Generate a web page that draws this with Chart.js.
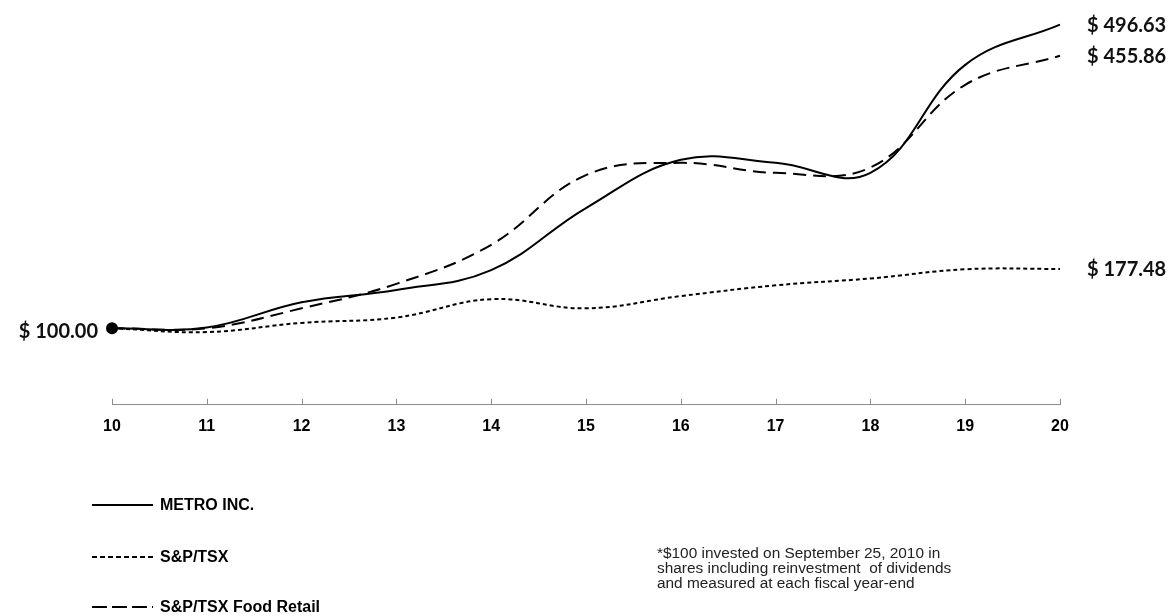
<!DOCTYPE html>
<html>
<head>
<meta charset="utf-8">
<script src="https://cdn.jsdelivr.net/npm/chart.js@4"></script>
<style>
  html, body { margin: 0; padding: 0; background: #fff; }
  #wrap { position: relative; width: 1172px; height: 616px; }
</style>
</head>
<body>
<div id="wrap"><canvas id="chart1" width="1172" height="616"></canvas></div>
<script>
// fiscal years (20xx)
const years = [10, 11, 12, 13, 14, 15, 16, 17, 18, 19, 20];

// cumulative value of $100
const metro     = [100, 101, 134, 150, 176, 257, 320, 316, 303, 444, 496.63];
const tsx       = [100, 95, 107, 114, 138, 126, 142, 156, 165, 177, 177.48];
const foodRetail = [100, 100, 126, 158, 209, 300, 316, 303, 310, 418, 455.86];

const seriesNames = ['METRO INC.', 'S&P/TSX', 'S&P/TSX Food Retail'];

const footnote = [
  '*$100 invested on September 25, 2010 in',
  'shares including reinvestment  of dividends',
  'and measured at each fiscal year-end'
];

function toPoints(values) {
  return values.map((v, i) => ({ x: years[i], y: v }));
}

// labels at both ends of the lines, legend and footnote
const decorations = {
  id: 'decorations',
  afterDraw(chart) {
    const ctx = chart.ctx;
    const xs = chart.scales.x;
    const ys = chart.scales.y;
    ctx.save();

    // small tick marks sitting on the axis line
    ctx.strokeStyle = '#8c8c8c';
    ctx.lineWidth = 1;
    years.forEach(yr => {
      const px = Math.round(xs.getPixelForValue(yr)) + 0.5;
      ctx.beginPath();
      ctx.moveTo(px, chart.chartArea.bottom);
      ctx.lineTo(px, chart.chartArea.bottom - 6);
      ctx.stroke();
    });

    // end labels
    ctx.fillStyle = '#111';
    ctx.font = 'bold 20px Lato, "Open Sans", sans-serif';
    ctx.textBaseline = 'middle';
    ctx.textAlign = 'left';
    chart.data.datasets.forEach(ds => {
      const last = ds.data[ds.data.length - 1];
      ctx.fillText('$ ' + last.y.toFixed(2), xs.getPixelForValue(last.x) + 27, ys.getPixelForValue(last.y) + 1);
    });
    const first = chart.data.datasets[0].data[0];
    ctx.textAlign = 'right';
    ctx.fillText('$ ' + first.y.toFixed(2), xs.getPixelForValue(first.x) - 14, ys.getPixelForValue(first.y) + 3);

    // legend
    const legendY = [505, 557, 607];
    chart.data.datasets.forEach((ds, i) => {
      ctx.strokeStyle = '#000';
      ctx.lineWidth = 2;
      ctx.setLineDash(ds.legendDash);
      ctx.beginPath();
      ctx.moveTo(92, legendY[i]);
      ctx.lineTo(153, legendY[i]);
      ctx.stroke();
      ctx.setLineDash([]);
      ctx.fillStyle = '#000';
      ctx.textAlign = 'left';
      ctx.font = 'bold 16px "Liberation Sans", Arial, sans-serif';
      ctx.fillText(seriesNames[i], 160, legendY[i] + 1);
    });

    // footnote
    ctx.fillStyle = '#222';
    ctx.font = '15.4px "Liberation Sans", Arial, sans-serif';
    ctx.textBaseline = 'alphabetic';
    footnote.forEach((line, i) => {
      ctx.fillText(line, 657, 558 + i * 15);
    });
    ctx.restore();
  }
};

const ctx = document.getElementById('chart1').getContext('2d');
const chart = new Chart(ctx, {
  type: 'line',
  data: {
    datasets: [
      {
        label: seriesNames[0],
        data: toPoints(metro),
        borderColor: '#000',
        borderWidth: 2,
        legendDash: [],
        pointRadius: metro.map((v, i) => i === 0 ? 5 : 0),
        pointBackgroundColor: '#000',
        pointBorderColor: '#000',
        tension: 0.4,
        fill: false
      },
      {
        label: seriesNames[1],
        data: toPoints(tsx),
        borderColor: '#000',
        borderWidth: 2,
        borderDash: [4, 3],
        legendDash: [5, 3],
        pointRadius: 0,
        tension: 0.4,
        fill: false
      },
      {
        label: seriesNames[2],
        data: toPoints(foodRetail),
        borderColor: '#000',
        borderWidth: 2,
        borderDash: [13, 7],
        legendDash: [15, 5],
        pointRadius: 0,
        tension: 0.4,
        fill: false
      }
    ]
  },
  options: {
    responsive: false,
    animation: false,
    clip: false,
    layout: { padding: { left: 112, right: 112, top: 22, bottom: 168 } },
    plugins: {
      legend: { display: false },
      tooltip: { enabled: false }
    },
    scales: {
      x: {
        type: 'linear',
        min: 10,
        max: 20,
        ticks: {
          stepSize: 1,
          padding: 12,
          color: '#000',
          font: { family: '"Liberation Sans", Arial, sans-serif', size: 16, weight: 'bold' }
        },
        grid: { display: false, drawTicks: false },
        border: { display: true, color: '#8c8c8c', width: 1 }
      },
      y: {
        display: false,
        min: 0,
        max: 500
      }
    }
  },
  plugins: [decorations]
});
</script>
</body>
</html>
